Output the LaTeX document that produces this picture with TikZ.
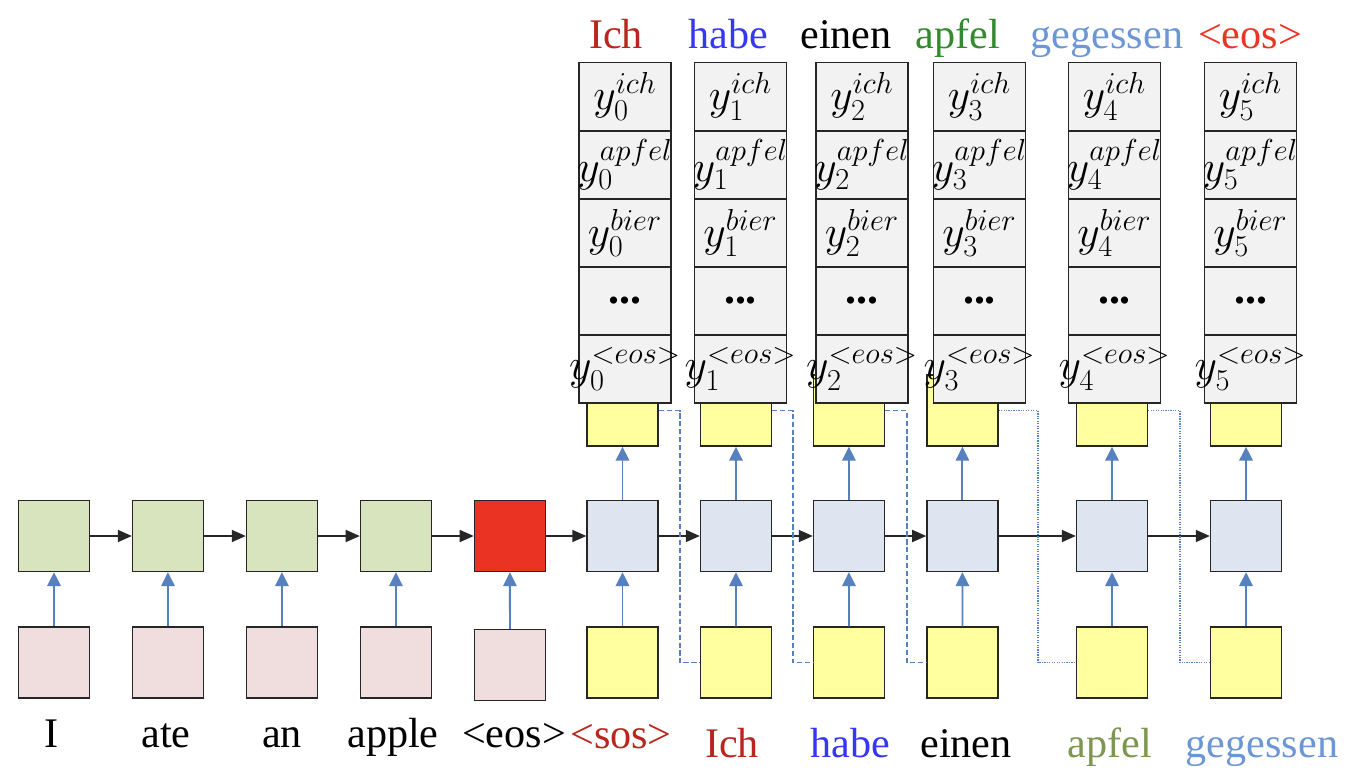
\documentclass[tikz,border=0pt]{standalone}
\usepackage{fontspec}
\setmainfont{Liberation Serif}
\usetikzlibrary{arrows.meta}

\definecolor{encgreen}{HTML}{D8E4BE}
\definecolor{embpink}{HTML}{F0DDDD}
\definecolor{eosred}{HTML}{EA3323}
\definecolor{decblue}{HTML}{DFE5F0}
\definecolor{outyellow}{HTML}{FFFF9F}
\definecolor{probgray}{HTML}{F2F2F2}
\definecolor{arrowblue}{HTML}{5680BE}
\definecolor{wred}{HTML}{B8261E}
\definecolor{wblue}{HTML}{3636F5}
\definecolor{wgreen}{HTML}{338A2E}
\definecolor{wolive}{HTML}{7D9650}
\definecolor{wlight}{HTML}{6C96D4}
\definecolor{weos}{HTML}{EB3424}

% cell text that may run over the cell border
\newcommand{\yv}[2]{\makebox[0pt][c]{$y_{#1}^{#2}$}}

\tikzset{
  cell/.style={draw=black!85, line width=0.8pt, inner sep=0pt, minimum width=1.42cm, minimum height=1.42cm},
  enc/.style={cell, fill=encgreen},
  emb/.style={cell, fill=embpink},
  dec/.style={cell, fill=decblue},
  yel/.style={cell, fill=outyellow},
  prob/.style={draw=black!85, line width=0.8pt, fill=probgray, inner sep=0pt, minimum width=1.84cm, minimum height=1.36cm, font=\fontsize{25}{30}\selectfont},
  word/.style={anchor=base, font=\fontsize{24}{29}\selectfont},
  up/.style={-{Triangle[length=0.28cm,width=0.27cm]}, arrowblue, line width=1.1pt},
  rec/.style={->, black!85, line width=0.9pt},
  feed/.style={arrowblue, line width=1pt, dash pattern=on 3pt off 1.5pt},
  feeddot/.style={arrowblue, line width=1pt, dash pattern=on 0.7pt off 0.7pt},
}

\begin{document}
\begin{tikzpicture}[x=0.02cm, y=-0.02cm, node distance=2.28cm, >={Triangle[length=0.28cm,width=0.24cm]}]
\useasboundingbox (0,0) rectangle (1360,778);

% encoder
\node[enc] (e1) at (54,536) {};
\node[enc] (e2) [right of=e1] {};
\node[enc] (e3) [right of=e2] {};
\node[enc] (e4) [right of=e3] {};
\node[cell, fill=eosred] (e5) [right of=e4] {};
\node[emb] (x1) at (54,662.5) {};
\node[emb] (x2) [right of=x1] {};
\node[emb] (x3) [right of=x2] {};
\node[emb] (x4) [right of=x3] {};
\node[emb] (x5) at (510,665) {};

% decoder
\node[dec] (d0) at (622.5,536) {};
\node[dec] (d1) [right of=d0, node distance=2.27cm] {};
\node[dec] (d2) [right of=d1, node distance=2.26cm] {};
\node[dec] (d3) [right of=d2, node distance=2.27cm] {};
\node[dec] (d4) at (1112,536) {};
\node[dec] (d5) at (1246,536) {};
\node[yel] (i0) at (622.5,662.5) {};
\node[yel] (i1) at (736,662.5) {};
\node[yel] (i2) at (849,662.5) {};
\node[yel] (i3) at (962.5,662.5) {};
\node[yel] (i4) at (1112,662.5) {};
\node[yel] (i5) at (1246,662.5) {};
\node[yel] (o0) [above of=d0, node distance=2.51cm] {};
\node[yel] (o1) [above of=d1, node distance=2.51cm] {};
\node[yel] (o2) [above of=d2, node distance=2.51cm] {};
\node[yel] (o3) [above of=d3, node distance=2.51cm] {};
\node[yel] (o4) [above of=d4, node distance=2.51cm] {};
\node[yel] (o5) [above of=d5, node distance=2.51cm] {};

% output distributions
\foreach \i/\x in {0/625,1/740.5,2/862,3/979.5,4/1114.5,5/1250.5} {
  \node[prob] (p\i a) at (\x,96.5) {\yv{\i}{ich}};
  \node[prob] (p\i b) at (\x,165) {\yv{\i}{apfel}};
  \node[prob] (p\i c) at (\x,233) {\yv{\i}{bier}};
  \node[prob] (p\i d) at (\x,301) {\textbf{...}};
  \node[prob] (p\i e) at (\x,369) {\yv{\i}{<eos>}};
}

% connections
\draw[rec] (e1) -- (e2);
\draw[rec] (e2) -- (e3);
\draw[rec] (e3) -- (e4);
\draw[rec] (e4) -- (e5);
\draw[rec] (e5) -- (d0);
\draw[rec] (d0) -- (d1);
\draw[rec] (d1) -- (d2);
\draw[rec] (d2) -- (d3);
\draw[rec] (d3) -- (d4);
\draw[rec] (d4) -- (d5);
\draw[up] (x1) -- (e1);
\draw[up] (x2) -- (e2);
\draw[up] (x3) -- (e3);
\draw[up] (x4) -- (e4);
\draw[up] (x5) -- (e5);
\draw[up] (i0) -- (d0);
\draw[up] (i1) -- (d1);
\draw[up] (i2) -- (d2);
\draw[up] (i3) -- (d3);
\draw[up] (i4) -- (d4);
\draw[up] (i5) -- (d5);
\draw[up] (d0) -- (o0);
\draw[up] (d1) -- (o1);
\draw[up] (d2) -- (o2);
\draw[up] (d3) -- (o3);
\draw[up] (d4) -- (o4);
\draw[up] (d5) -- (o5);
\draw[feed] (o0.east) -- ++(21,0) |- (i1.west);
\draw[feed] (o1.east) -- ++(20.5,0) |- (i2.west);
\draw[feed] (o2.east) -- ++(21.5,0) |- (i3.west);
\draw[feeddot] (o3.east) -- ++(39,0) |- (i4.west);
\draw[feeddot] (o4.east) -- ++(31.5,0) |- (i5.west);

% words
\node[word, text=wred] (t0) at (616,48) {Ich};
\node[word, text=wblue] (t1) at (728,48) {habe};
\node[word] (t2) at (846,48) {einen};
\node[word, text=wgreen] (t3) at (958,48) {apfel};
\node[word, text=wlight] (t4) at (1107,48) {gegessen};
\node[word, text=weos] (t5) at (1250,48) {<eos>};
\node[word] (w1) at (52,747) {I};
\node[word] (w2) at (166,747) {ate};
\node[word] (w3) at (282,747) {an};
\node[word] (w4) at (393,747) {apple};
\node[word] (w5) at (514,747) {<eos>};
\node[word, text=wred] (s0) at (621,748) {<sos>};
\node[word, text=wred] (s1) at (732,757) {Ich};
\node[word, text=wblue] (s2) at (850,757) {habe};
\node[word] (s3) at (966,757) {einen};
\node[word, text=wolive] (s4) at (1110,757) {apfel};
\node[word, text=wlight] (s5) at (1262,757) {gegessen};
\end{tikzpicture}
\end{document}
